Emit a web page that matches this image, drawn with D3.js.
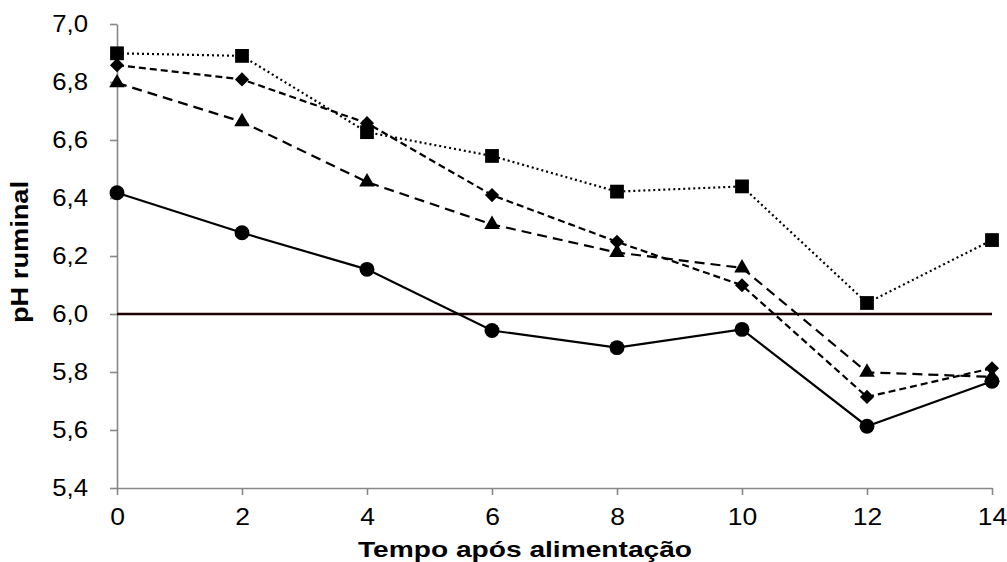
<!DOCTYPE html>
<html>
<head>
<meta charset="utf-8">
<script src="https://cdn.jsdelivr.net/npm/d3@7"></script>
<style>
  body { margin: 0; background: #fff; }
  svg { display: block; font-family: "Liberation Sans", Arial, sans-serif; }
</style>
</head>
<body>
<div id="chart"></div>
<script>
// horas após alimentação
var tempo = [0, 2, 4, 6, 8, 10, 12, 14];
// pH ruminal, one array per treatment
var circulos  = [6.418, 6.28, 6.154, 5.943, 5.884, 5.947, 5.613, 5.768];
var triangulos = [6.797, 6.663, 6.455, 6.309, 6.212, 6.159, 5.799, 5.783];
var losangos  = [6.858, 6.809, 6.658, 6.41, 6.249, 6.099, 5.714, 5.813];
var quadrados = [6.899, 6.89, 6.627, 6.545, 6.422, 6.44, 6.038, 6.255];
var limiar = 6.0;
var yTicks = [5.4, 5.6, 5.8, 6.0, 6.2, 6.4, 6.6, 6.8, 7.0];
var xTicks = [0, 2, 4, 6, 8, 10, 12, 14];

var margin = ({top: 24, right: 15, bottom: 74, left: 117});
var width = 1007, height = 562;

var svg = d3.select("#chart")
  .append("svg")
  .attr("width", width)
  .attr("height", height);

var x = d3.scaleLinear()
  .domain([0, 14])
  .range([margin.left, width - margin.right]);
var y = d3.scaleLinear()
  .domain([5.4, 7.0])
  .range([height - margin.bottom, margin.top]);

var fmt = d => d3.format(".1f")(d).replace(".", ",");

// stretch text horizontally, the original picture is widened
function stretch(sel, k) {
  sel.each(function() {
    var w = this.getComputedTextLength();
    d3.select(this).attr("textLength", w * k).attr("lengthAdjust", "spacingAndGlyphs");
  });
}

var yAxis = g => g
  .attr("transform", `translate(${margin.left},0)`)
  .call(d3.axisLeft(y).tickValues(yTicks).tickFormat(fmt).tickSize(7).tickSizeOuter(0).tickPadding(22))
  .call(g => g.selectAll("line, path").attr("stroke", "#878787").attr("stroke-width", 1.6))
  .call(g => g.selectAll("text").attr("font-size", 23).attr("fill", "#000").attr("font-family", null).call(stretch, 1.12));

var xAxis = g => g
  .attr("transform", `translate(0,${height - margin.bottom})`)
  .call(d3.axisBottom(x).tickValues(xTicks).tickSize(7).tickSizeOuter(0).tickPadding(14))
  .call(g => g.selectAll("line, path").attr("stroke", "#878787").attr("stroke-width", 1.6))
  .call(g => g.selectAll("text").attr("font-size", 23).attr("fill", "#000").attr("font-family", null).call(stretch, 1.15));

svg.append("g").call(yAxis);
svg.append("g").call(xAxis);

// limite de pH 6,0
svg.append("line")
  .attr("x1", x(0)).attr("x2", x(14))
  .attr("y1", y(limiar)).attr("y2", y(limiar))
  .attr("stroke", "#1c0202")
  .attr("stroke-width", 2.4);

var series = [
  {values: quadrados,  dash: "2,3",  symbol: d3.symbolSquare,   size: 190, rot: 0},
  {values: triangulos, dash: "10,6", symbol: d3.symbolTriangle, size: 105, rot: 0},
  {values: losangos,   dash: "7,4",  symbol: d3.symbolSquare,   size: 100, rot: 45},
  {values: circulos,   dash: null,   symbol: d3.symbolCircle,   size: 175, rot: 0}
];

var line = d3.line()
  .x((d, i) => x(tempo[i]))
  .y(d => y(d));

series.forEach(function(s) {
  svg.append("path")
    .datum(s.values)
    .attr("fill", "none")
    .attr("stroke", "#000")
    .attr("stroke-width", 2.2)
    .attr("stroke-dasharray", s.dash)
    .attr("d", line);
});

series.forEach(function(s) {
  svg.append("g")
    .selectAll("path")
    .data(s.values)
    .join("path")
      .attr("transform", (d, i) => `translate(${x(tempo[i])},${y(d)}) rotate(${s.rot})`)
      .attr("d", d3.symbol(s.symbol, s.size))
      .attr("fill", "#000");
});

// axis titles
svg.append("text")
  .attr("x", 358)
  .attr("y", 557)
  .attr("font-size", 22)
  .attr("font-weight", "bold")
  .attr("textLength", 334)
  .attr("lengthAdjust", "spacingAndGlyphs")
  .text("Tempo após alimentação");

svg.append("text")
  .attr("transform", "translate(28,252) rotate(-90)")
  .attr("text-anchor", "middle")
  .attr("font-size", 24)
  .attr("font-weight", "bold")
  .attr("textLength", 142)
  .attr("lengthAdjust", "spacingAndGlyphs")
  .text("pH ruminal");
</script>
</body>
</html>
